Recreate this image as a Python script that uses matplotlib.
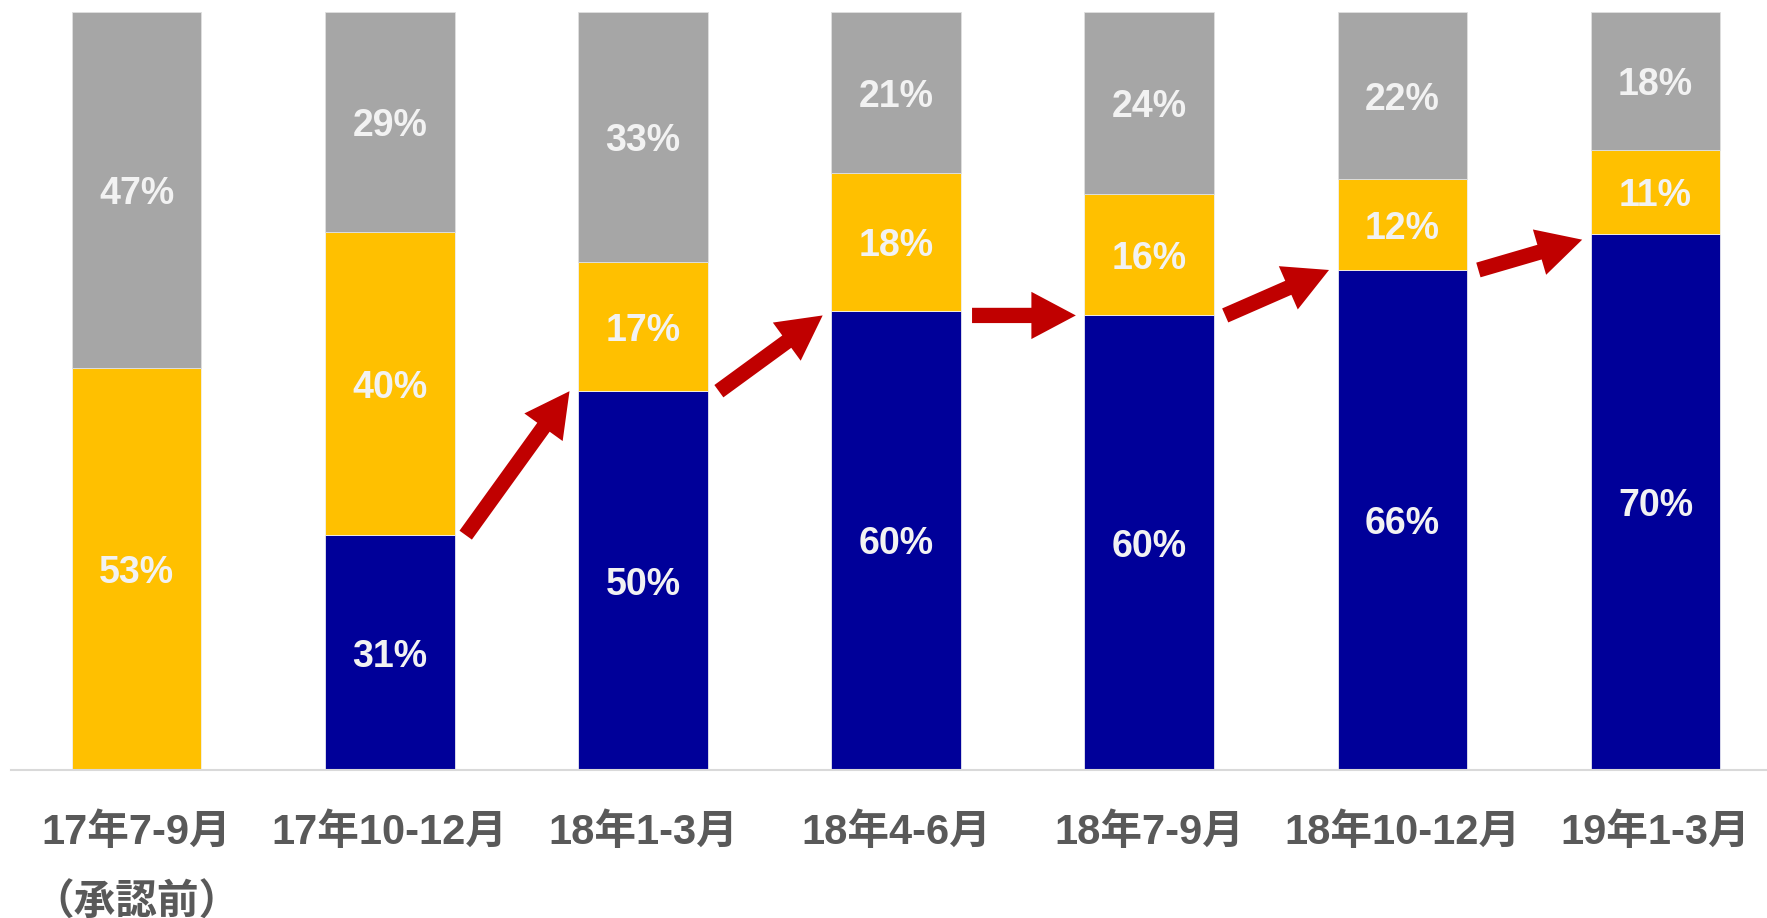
import numpy as np
import matplotlib
matplotlib.use("Agg")
import matplotlib.pyplot as plt

# データ
periods = ['17年7-9月\n（承認前）', '17年10-12月', '18年1-3月', '18年4-6月',
           '18年7-9月', '18年10-12月', '19年1-3月']
blue_vals = [0, 31, 50, 60, 60, 66, 70]
yellow_vals = [53, 40, 17, 18, 16, 12, 11]
grey_vals = [47, 29, 33, 21, 24, 22, 18]

c_blue = '#000099'
c_yellow = '#FFC000'
c_grey = '#A6A6A6'
c_red = '#C00000'

blue = np.array(blue_vals, dtype=float)
yellow = np.array(yellow_vals, dtype=float)
grey = np.array(grey_vals, dtype=float)
total = blue + yellow + grey
# 100%積み上げ
b_n = blue / total * 100
y_n = yellow / total * 100
g_n = grey / total * 100

fig = plt.figure(figsize=(17.67, 9.18), dpi=100)
ax = fig.add_axes([11 / 1767, 148 / 918, 1 - 11 / 1767, 757.6 / 918])

x = np.arange(len(periods))
w = 0.512
ax.bar(x, b_n, w, color=c_blue, edgecolor='#E8E8F0', linewidth=0.6)
ax.bar(x, y_n, w, bottom=b_n, color=c_yellow, edgecolor='#F0F0F0', linewidth=0.6)
ax.bar(x, g_n, w, bottom=b_n + y_n, color=c_grey, edgecolor='#E0E0E0', linewidth=0.6)

lab_font = dict(family=['Liberation Sans', 'DejaVu Sans'], weight='bold',
                fontsize=27, color='#F2F2F2', ha='center', va='center_baseline')
for i in range(len(x)):
    if blue_vals[i] > 0:
        ax.text(x[i], b_n[i] / 2, f'{blue_vals[i]}%', **lab_font)
    ax.text(x[i], b_n[i] + y_n[i] / 2, f'{yellow_vals[i]}%', **lab_font)
    ax.text(x[i], b_n[i] + y_n[i] + g_n[i] / 2, f'{grey_vals[i]}%', **lab_font)

# 矢印（青の割合の推移）
for i in range(1, len(x) - 1):
    ax.annotate('', xy=(x[i] + 0.71, blue[i + 1]), xytext=(x[i] + 0.3, blue[i]),
                arrowprops=dict(arrowstyle='simple,tail_width=0.55,head_width=1.7,head_length=1.6',
                                mutation_scale=20, color=c_red, shrinkA=0, shrinkB=0,
                                linewidth=0))

ax.set_xlim(-0.496, 6.44)
ax.set_ylim(0, 100)
ax.set_xticks(x)
ax.set_xticklabels(periods, fontsize=30, fontweight='bold', color='#595959',
                   family=['Liberation Sans', 'Noto Sans CJK JP', 'DejaVu Sans'],
                   linespacing=2.0)
ax.tick_params(axis='x', length=0, pad=31)
ax.set_yticks([])
for s in ['top', 'right', 'left']:
    ax.spines[s].set_visible(False)
ax.spines['bottom'].set_color('#D9D9D9')
ax.spines['bottom'].set_linewidth(1.5)

fig.savefig('out.png', dpi=100)
